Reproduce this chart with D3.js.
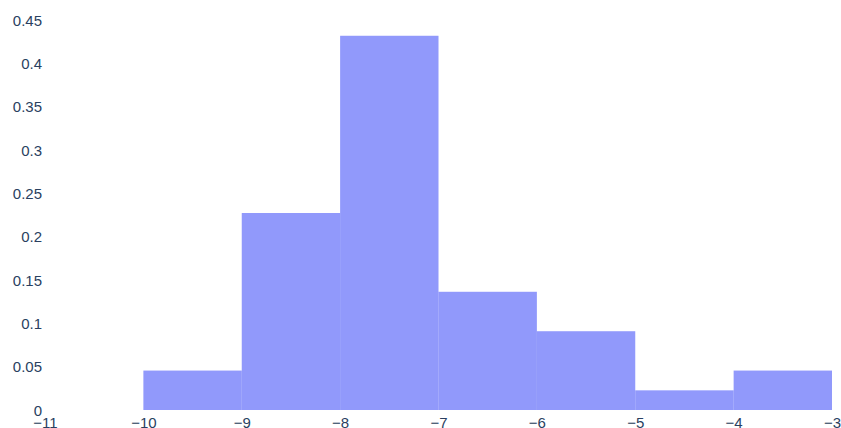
<!DOCTYPE html>
<meta charset="utf-8">
<head>
  <title>histogram</title>
</head>
<style>
  body { margin: 0; background: #fff; }
  text { font-family: "Liberation Sans", Arial, sans-serif; font-size: 15px; fill: #2a3f5f; }
</style>
<body>
  <svg width="841" height="428"></svg>
  <script src="https://cdnjs.cloudflare.com/ajax/libs/d3/7.8.5/d3.min.js"></script>
  <script>
    // bin edges and probability per bin
    var binStarts = [-10, -9, -8, -7, -6, -5, -4]
    var binWidth = 1
    var probs = [0.0455, 0.2273, 0.4318, 0.1364, 0.0909, 0.0227, 0.0455]
    var xTicks = [-11, -10, -9, -8, -7, -6, -5, -4, -3]
    var yTicks = [0, 0.05, 0.1, 0.15, 0.2, 0.25, 0.3, 0.35, 0.4, 0.45]

    var svg = d3.select('svg')
    var x = d3.scaleLinear().domain([-11, -3]).range([45, 832])
    var y = d3.scaleLinear().domain([0, 0.45]).range([410, 20])

    svg.selectAll('rect')
      .data(binStarts)
      .enter()
      .append('rect')
      .attr('x', function(d) { return x(d) })
      .attr('width', function(d) { return x(d + binWidth) - x(d) })
      .attr('y', function(d, i) { return y(probs[i]) })
      .attr('height', function(d, i) { return y(0) - y(probs[i]) })
      .attr('fill', '#636efa')
      .attr('fill-opacity', 0.7)

    var xAxis = d3.axisBottom(x).tickValues(xTicks).tickSize(0).tickFormat(d3.format('d'))
    svg.append('g')
      .attr('transform', 'translate(0,410)')
      .call(xAxis)
      .call(function(g) {
        g.select('.domain').remove()
        g.selectAll('text').attr('dy', null).attr('y', 18).attr('fill', null)
      })

    var yAxis = d3.axisLeft(y).tickValues(yTicks).tickSize(0).tickFormat(function(d) { return d3.format('~g')(d) })
    svg.append('g')
      .attr('transform', 'translate(42,0)')
      .call(yAxis)
      .call(function(g) {
        g.select('.domain').remove()
        g.selectAll('text').attr('x', 0).attr('dy', '0.35em').attr('fill', null)
      })
    svg.selectAll('g').attr('font-family', null).attr('font-size', null)
  </script>
</body>
</html>
